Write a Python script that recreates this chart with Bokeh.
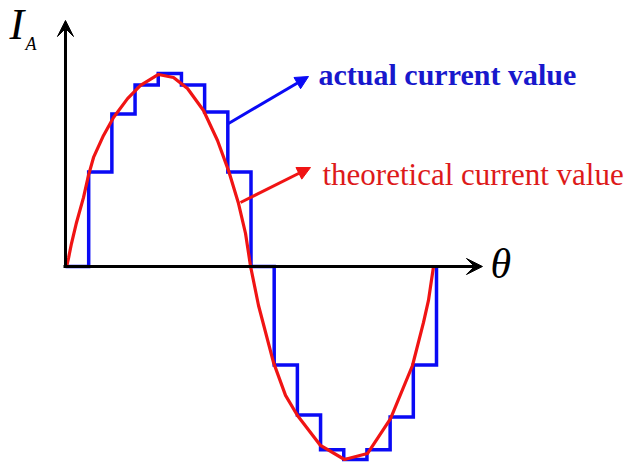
from bokeh.plotting import figure
from bokeh.models import Range1d, Arrow, NormalHead, VeeHead, Label
from bokeh.embed import file_html
from bokeh.resources import INLINE

# ---- data (theta in degrees, current normalised to peak) ----
step_theta = [0, 22.5, 45, 67.5, 90, 112.5, 135, 157.5, 180,
              202.5, 225, 247.5, 270, 292.5, 315, 337.5, 360]
step_current = [0, 0.49, 0.79, 0.94, 1.0, 0.94, 0.80, 0.49, 0,
                -0.51, -0.77, -0.95, -1.0, -0.95, -0.78, -0.51, 0]

theory_theta = [0, 1.3, 3.0, 5.8, 10.7, 17.5, 22.3, 27.2, 36.9, 46.6, 60.2, 72.8, 90.2,
                104.8, 118.4, 133.9, 147.5, 158.2, 167.9, 174.7, 179.6,
                187.3, 201.8, 213.5, 225.1, 247.4, 270.7, 293.0, 315.4,
                336.7, 347.4, 352.2, 357.1]
theory_current = [0, 0.005, 0.045, 0.119, 0.228, 0.358, 0.472, 0.565, 0.679, 0.772, 0.870, 0.938, 0.995,
                  0.979, 0.922, 0.808, 0.653, 0.497, 0.326, 0.171, 0,
                  -0.202, -0.497, -0.668, -0.772, -0.927, -1.0, -0.969, -0.788,
                  -0.513, -0.290, -0.176, 0]

label_actual = "actual current value"
label_theory = "theoretical current value"

BLUE = "#0a0af5"
RED = "#f01414"
FONT = "Liberation Serif"

W, H = 630, 464
p = figure(width=W, height=H, output_backend="svg", toolbar_location=None,
           x_range=Range1d(-63.07, 548.24), y_range=Range1d(-1.0259, 1.3782),
           x_axis_location=None, y_axis_location=None, min_border=0,
           outline_line_color=None, background_fill_color="white",
           border_fill_color="white")
p.grid.visible = False

# staircase (actual)
p.step(step_theta, step_current, mode="after", line_color=BLUE, line_width=3.5,
       line_join="miter")

# theoretical curve
p.line(theory_theta, theory_current, line_color=RED, line_width=3.2, line_join="round")

# axes with arrow heads
p.add_layout(Arrow(end=VeeHead(size=16, fill_color="black", line_color="black"),
                   x_start=0, y_start=0, x_end=0, y_end=1.2746,
                   line_color="black", line_width=3))
p.add_layout(Arrow(end=VeeHead(size=16, fill_color="black", line_color="black"),
                   x_start=-1.94, y_start=0, x_end=404.6, y_end=0,
                   line_color="black", line_width=3))

# label arrows (screen units: y measured from bottom)
p.add_layout(Arrow(end=NormalHead(size=13, fill_color=BLUE, line_color=BLUE),
                   x_start=228, y_start=341, x_end=308, y_end=388,
                   start_units="screen", end_units="screen",
                   line_color=BLUE, line_width=3))
p.add_layout(Arrow(end=NormalHead(size=13, fill_color=RED, line_color=RED),
                   x_start=240, y_start=262, x_end=310, y_end=297,
                   start_units="screen", end_units="screen",
                   line_color=RED, line_width=3))

# texts
p.add_layout(Label(x=9, y=440, x_units="screen", y_units="screen", text="I",
                   text_font=FONT, text_font_style="italic", text_font_size="44px",
                   text_color="black", text_baseline="alphabetic"))
p.add_layout(Label(x=25, y=421, x_units="screen", y_units="screen", text="A",
                   text_font=FONT, text_font_style="italic", text_font_size="18px",
                   text_color="black", text_baseline="alphabetic"))
p.add_layout(Label(x=490, y=201, x_units="screen", y_units="screen", text="θ",
                   text_font=FONT, text_font_style="italic", text_font_size="42px",
                   text_color="black", text_baseline="alphabetic"))
p.add_layout(Label(x=318, y=390, x_units="screen", y_units="screen", text=label_actual,
                   text_font=FONT, text_font_style="bold", text_font_size="30px",
                   text_color="#1818cc", text_baseline="alphabetic"))
p.add_layout(Label(x=322, y=290, x_units="screen", y_units="screen", text=label_theory,
                   text_font=FONT, text_font_size="31px",
                   text_color="#dd1a1a", text_baseline="alphabetic"))

open("out.html", "w").write(file_html(p, INLINE))
